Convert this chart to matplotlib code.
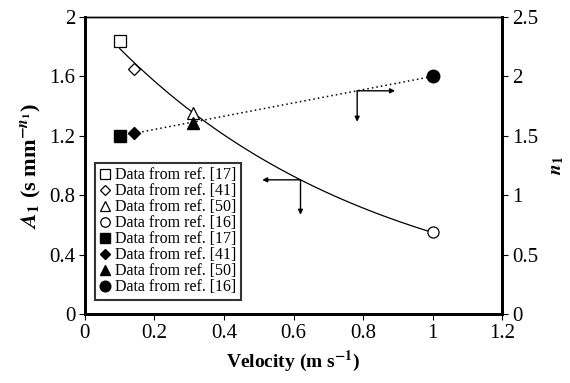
import numpy as np
import matplotlib
matplotlib.use("Agg")
import matplotlib.pyplot as plt

plt.rcParams['font.family'] = ['Liberation Serif', 'DejaVu Serif']
plt.rcParams['mathtext.fontset'] = 'stix'

# A1 (left axis, open markers)
vel_a = [0.10, 0.14, 0.31, 1.00]
a1 = [1.84, 1.65, 1.35, 0.55]
# n1 (right axis, filled markers)
vel_n = [0.10, 0.14, 0.31, 1.00]
n1 = [1.50, 1.52, 1.61, 2.00]
refs = ['[17]', '[41]', '[50]', '[16]']
markers = ['s', 'D', '^', 'o']
open_sizes = [9, 6, 8, 8]
fill_sizes = [8, 6, 8, 9]

fig = plt.figure(figsize=(5.7, 3.83), dpi=100)
ax = fig.add_axes([0.149, 0.180, 0.732, 0.776])
ax2 = ax.twinx()

# trend lines: exponential fit for A1, linear fit for n1
k, lna = np.polyfit(vel_a, np.log(a1), 1)
vv = np.linspace(min(vel_a), max(vel_a), 200)
ax.plot(vv, np.exp(lna + k * vv), color='black', lw=0.9, zorder=2)
m, c = np.polyfit(vel_n, n1, 1)
ax2.plot(vv, m * vv + c, color='black', lw=1.1, ls=(0, (1, 2)), zorder=2)

handles = []
for v, y, mk, s, r in zip(vel_a, a1, markers, open_sizes, refs):
    h, = ax.plot(v, y, marker=mk, ms=s, mfc='white', mec='black', mew=0.9,
                 ls='none', zorder=4, label='Data from ref. ' + r)
    handles.append(h)
for v, y, mk, s, r in zip(vel_n, n1, markers, fill_sizes, refs):
    h, = ax2.plot(v, y, marker=mk, ms=s, mfc='black', mec='black',
                  ls='none', zorder=4, label='Data from ref. ' + r)
    handles.append(h)

ax.set_xlim(0, 1.2)
ax.set_ylim(0, 2)
ax2.set_ylim(0, 2.5)
ax.set_xticks([0, 0.2, 0.4, 0.6, 0.8, 1, 1.2])
ax.set_xticklabels(['0', '0.2', '0.4', '0.6', '0.8', '1', '1.2'])
ax.set_yticks([0, 0.4, 0.8, 1.2, 1.6, 2])
ax.set_yticklabels(['0', '0.4', '0.8', '1.2', '1.6', '2'])
ax2.set_yticks([0, 0.5, 1, 1.5, 2, 2.5])
ax2.set_yticklabels(['0', '0.5', '1', '1.5', '2', '2.5'])
for a in (ax, ax2):
    a.tick_params(direction='out', length=4, width=0.8, labelsize=15, pad=3)
    for side in ('left', 'right', 'bottom'):
        a.spines[side].set_linewidth(2)
    a.spines['top'].set_linewidth(1)

ax.set_xlabel('Velocity (m s$^{\\mathbf{-1}}$)', fontsize=14, fontweight='bold', labelpad=4)
ax.set_ylabel(r'$\mathbfit{A}_{\mathbf{1}}$ (s mm$^{\mathbf{-}\mathbfit{n}_{\mathbf{1}}}$)',
              fontsize=16, fontweight='bold', labelpad=4)
ax2.set_ylabel(r'$\mathbfit{n}_{\mathbf{1}}$', fontsize=14, labelpad=8)

# bracket arrows pointing to the relevant axis
arrow = dict(arrowstyle='-|>', color='black', lw=1.0, mutation_scale=7,
             shrinkA=0, shrinkB=0)
xc = 0.62
yc = np.exp(lna + k * xc)
ax.annotate('', xy=(0.51, yc), xytext=(xc, yc), arrowprops=arrow)
ax.annotate('', xy=(xc, yc - 0.235), xytext=(xc, yc), arrowprops=arrow)
xc2 = 0.783
yc2 = m * xc2 + c
ax2.annotate('', xy=(0.892, yc2), xytext=(xc2, yc2), arrowprops=arrow)
ax2.annotate('', xy=(xc2, yc2 - 0.26), xytext=(xc2, yc2), arrowprops=arrow)

leg = ax2.legend(handles=handles, loc='lower left', bbox_to_anchor=(0.024, 0.047),
                 fontsize=11.5, frameon=True, fancybox=False, edgecolor='black',
                 handlelength=0.7, handletextpad=0.25, labelspacing=0.0,
                 borderpad=0.3, borderaxespad=0, markerscale=0.85)
leg.get_frame().set_linewidth(1.5)
leg.set_zorder(5)

fig.savefig('out.png', dpi=100)
